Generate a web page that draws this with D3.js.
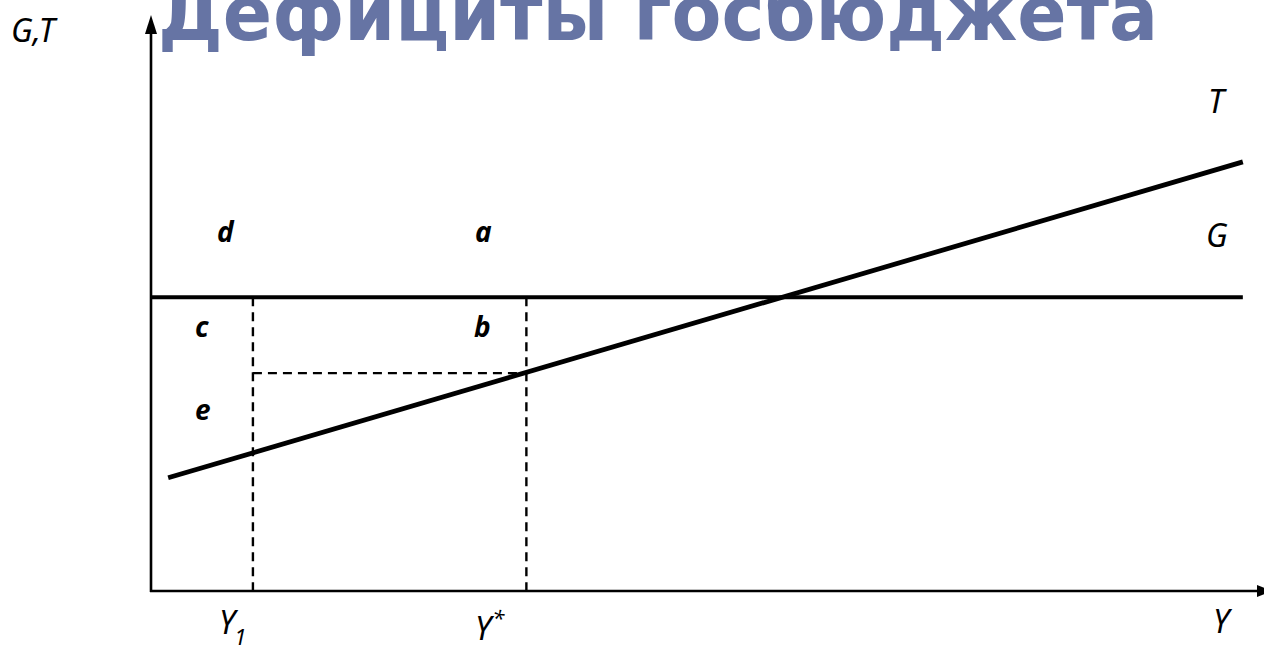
<!DOCTYPE html>
<html>
<head>
<meta charset="utf-8">
<script src="https://cdn.jsdelivr.net/npm/d3@7"></script>
<style>
  body { margin: 0; background: #fff; }
  svg { display: block; }
  .lbl { font-family: "Noto Sans", sans-serif; font-style: italic; fill: #000; }
</style>
</head>
<body>
<svg class="chart"></svg>
<script>
// Chart data (arbitrary units)
const title = "Дефициты госбюджета";
const gLevel = 30.6;                       // G: horizontal spending line
const tLine = [[1.7, 11.8], [108.2, 44.7]]; // T: tax line endpoints
const gStart = 0, gEnd = 108.2;
const yMarks = [10.1, 37.2];                // Y1, Y*
const tAtYstar = 22.7;                       // T level at Y*
const regionLabels = ["d", "a", "c", "b", "e"];

const styles = {
  width: 1264,
  height: 649,
  margin: [15, 3, 58, 151]
}

const x = d3.scaleLinear()
  .domain([0, 110])
  .range([styles.margin[3], 1261]);

const y = d3.scaleLinear()
  .domain([0, 60])
  .range([591, styles.margin[0]]);

const svg = d3.select('.chart')
  .attr('width', styles.width)
  .attr('height', styles.height)
  .attr('viewBox', [0, 0, styles.width, styles.height]);

// Title, cut at the top edge as in the slide
svg.append('text')
  .attr('x', 158)
  .attr('y', 40)
  .attr('fill', '#6674a4')
  .attr('font-family', '"DejaVu Sans", sans-serif')
  .attr('font-weight', 'bold')
  .attr('font-size', 76)
  .attr('textLength', 1000)
  .attr('lengthAdjust', 'spacingAndGlyphs')
  .text(title);

// Dashed guides
const dashed = svg.append('g')
  .attr('stroke', '#000')
  .attr('stroke-width', 2.4)
  .attr('stroke-dasharray', '9,6')
  .attr('fill', 'none');

dashed.selectAll('line.v')
  .data(yMarks)
  .join('line')
  .attr('class', 'v')
  .attr('x1', d => x(d)).attr('x2', d => x(d))
  .attr('y1', y(gLevel)).attr('y2', y(0));

dashed.append('line')
  .attr('x1', x(yMarks[0])).attr('x2', x(yMarks[1]))
  .attr('y1', y(tAtYstar)).attr('y2', y(tAtYstar));

// G line
svg.append('line')
  .attr('x1', x(gStart)).attr('x2', x(gEnd))
  .attr('y1', y(gLevel)).attr('y2', y(gLevel))
  .attr('stroke', '#000')
  .attr('stroke-width', 4.2);

// T line
svg.append('path')
  .datum(tLine)
  .attr('d', d3.line().x(d => x(d[0])).y(d => y(d[1])))
  .attr('stroke', '#000')
  .attr('stroke-width', 4.8)
  .attr('fill', 'none');

// Axes with arrowheads
const axes = svg.append('g').attr('stroke', '#000').attr('stroke-width', 2.6);
axes.append('line')
  .attr('x1', x(0)).attr('x2', x(0))
  .attr('y1', y(0) + 1).attr('y2', 30);
axes.append('line')
  .attr('x1', x(0) - 1).attr('x2', 1258)
  .attr('y1', y(0)).attr('y2', y(0));
svg.append('path')
  .attr('d', `M${x(0)},15 L${x(0) - 6},34 L${x(0) + 6},34 Z`)
  .attr('fill', '#000');
svg.append('path')
  .attr('d', `M1272,${y(0)} L1257,${y(0) - 6} L1257,${y(0) + 6} Z`)
  .attr('fill', '#000');

// Axis and line labels
const caps = [
  { t: 'G,T', x: 11, y: 42 },
  { t: 'T', x: 1208, y: 113 },
  { t: 'G', x: 1206, y: 247 },
  { t: 'Y', x: 1213, y: 633 }
];
svg.append('g').selectAll('text')
  .data(caps)
  .join('text')
  .attr('class', 'lbl')
  .attr('font-size', 32)
  .attr('x', d => d.x)
  .attr('y', d => d.y)
  .text(d => d.t);

// Y1 and Y*
const y1 = svg.append('text').attr('class', 'lbl').attr('font-size', 32)
  .attr('x', 219).attr('y', 634);
y1.append('tspan').text('Y');
y1.append('tspan').attr('font-size', 22).attr('dx', -1).attr('dy', 11).text('1');

const ys = svg.append('text').attr('class', 'lbl').attr('font-size', 32)
  .attr('x', 475).attr('y', 640);
ys.append('tspan').text('Y');
ys.append('tspan').attr('font-size', 22).attr('dx', 1).attr('dy', -14).text('*');

// Region labels
const regionPos = [[217, 242], [475, 242], [195, 337], [474, 337], [195, 420]];
svg.append('g').selectAll('text')
  .data(regionLabels)
  .join('text')
  .attr('class', 'lbl')
  .attr('font-weight', 'bold')
  .attr('font-size', 28)
  .attr('x', (d, i) => regionPos[i][0])
  .attr('y', (d, i) => regionPos[i][1])
  .text(d => d);
</script>
</body>
</html>
